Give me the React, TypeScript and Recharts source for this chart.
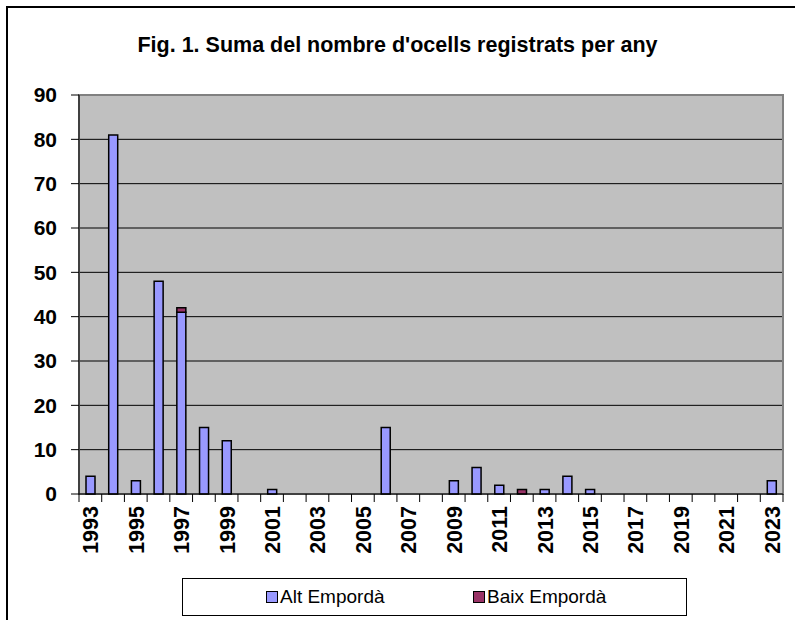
import { BarChart, Bar, XAxis, YAxis, CartesianGrid, Legend, ReferenceArea } from "recharts";

const YEARS = [
  "1993", "1994", "1995", "1996", "1997", "1998", "1999", "2000", "2001", "2002",
  "2003", "2004", "2005", "2006", "2007", "2008", "2009", "2010", "2011", "2012",
  "2013", "2014", "2015", "2016", "2017", "2018", "2019", "2020", "2021", "2022", "2023",
];
const ALT = [4, 81, 3, 48, 41, 15, 12, 0, 1, 0, 0, 0, 0, 15, 0, 0, 3, 6, 2, 0, 1, 4, 1, 0, 0, 0, 0, 0, 0, 0, 3];
const BAIX = [0, 0, 0, 0, 1, 0, 0, 0, 0, 0, 0, 0, 0, 0, 0, 0, 0, 0, 0, 1, 0, 0, 0, 0, 0, 0, 0, 0, 0, 0, 0];
const Y_TICKS = [0, 10, 20, 30, 40, 50, 60, 70, 80, 90];
const SERIES = [
  { key: "alt", name: "Alt Empordà", color: "#9999FF" },
  { key: "baix", name: "Baix Empordà", color: "#993366" },
];
const TITLE = "Fig. 1. Suma del nombre d'ocells registrats per any";

const data = YEARS.map((y, i) => ({ year: y, alt: ALT[i], baix: BAIX[i] }));

const W = 795;
const H = 620;
const LEFT = 79;
const RIGHT = 12;
const TOP = 95;
const BOTTOM = 126;
const BAND = (W - LEFT - RIGHT) / YEARS.length;
const FONT = "'Liberation Sans', Arial, sans-serif";

function YearTick(props: any) {
  const { x, y, payload } = props;
  const i = payload.index;
  return (
    <g>
      <line x1={x - BAND / 2} x2={x - BAND / 2} y1={y} y2={y + 8} stroke="#000" strokeWidth={1} />
      {i === YEARS.length - 1 && (
        <line x1={x + BAND / 2} x2={x + BAND / 2} y1={y} y2={y + 8} stroke="#000" strokeWidth={1} />
      )}
      {i % 2 === 0 && (
        <text
          x={x + 8}
          y={y + 12}
          transform={`rotate(-90, ${x + 8}, ${y + 12})`}
          textAnchor="end"
          fontFamily={FONT}
          fontWeight="bold"
          fontSize={21.5}
          fill="#000"
        >
          {payload.value}
        </text>
      )}
    </g>
  );
}

function LegendBox() {
  return (
    <div
      style={{
        position: "relative",
        width: 505,
        height: 38,
        border: "1px solid #000",
        boxSizing: "border-box",
        background: "#fff",
        fontFamily: FONT,
        fontSize: 19,
      }}
    >
      {SERIES.map((s, i) => (
        <div
          key={s.key}
          style={{ position: "absolute", left: i === 0 ? 83 : 290, top: 8, display: "flex", alignItems: "center", lineHeight: "20px" }}
        >
          <span style={{ width: 10, height: 10, background: s.color, border: "1.5px solid #000", marginRight: 2 }} />
          <span>{s.name}</span>
        </div>
      ))}
    </div>
  );
}

export default function App() {
  return (
    <div style={{ position: "absolute", left: 0, top: 0, width: W, height: H, overflow: "hidden", background: "#fff" }}>
      <div
        style={{ position: "absolute", left: 6, top: 6, width: 900, height: 900, border: "2px solid #000", boxSizing: "border-box" }}
      />
      <div
        style={{
          position: "absolute",
          left: 0,
          top: 35,
          width: W,
          textAlign: "center",
          fontFamily: FONT,
          fontWeight: "bold",
          fontSize: 21.5,
          lineHeight: 1,
        }}
      >
        {TITLE}
      </div>
      <div style={{ position: "absolute", left: 0, top: 0 }}>
        <BarChart width={W} height={H} data={data} margin={{ top: TOP, right: RIGHT, left: 0, bottom: 0 }} barSize={9}>
          <CartesianGrid horizontal vertical={false} stroke="#000" fill="#C0C0C0" fillOpacity={1} />
          <ReferenceArea y1={0} y2={90} stroke="#808080" strokeWidth={2} fill="none" fillOpacity={0} ifOverflow="visible" />
          <XAxis
            dataKey="year"
            interval={0}
            height={BOTTOM}
            tickSize={0}
            tickMargin={0}
            tickLine={false}
            axisLine={{ stroke: "#000", strokeWidth: 1 }}
            tick={<YearTick />}
          />
          <YAxis
            width={LEFT}
            domain={[0, 90]}
            ticks={Y_TICKS}
            interval={0}
            tickSize={8}
            tickMargin={14}
            axisLine={{ stroke: "#000", strokeWidth: 1 }}
            tickLine={{ stroke: "#000" }}
            tick={{ fill: "#000", fontSize: 21, fontWeight: "bold", fontFamily: FONT }}
          />
          <Legend
            verticalAlign="middle"
            align="center"
            layout="horizontal"
            wrapperStyle={{ left: 182, top: 578, width: 505, height: 38 }}
            content={() => <LegendBox />}
          />
          {SERIES.map((s) => (
            <Bar
              key={s.key}
              dataKey={s.key}
              name={s.name}
              stackId="a"
              fill={s.color}
              stroke="#000"
              strokeWidth={1.5}
              isAnimationActive={false}
            />
          ))}
        </BarChart>
      </div>
    </div>
  );
}
